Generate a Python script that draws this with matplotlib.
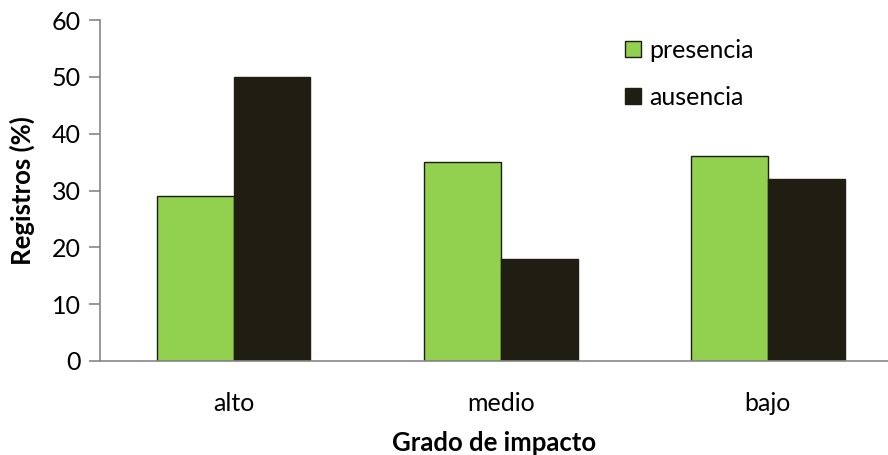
import numpy as np
import matplotlib
matplotlib.use("Agg")
from matplotlib import pyplot as plt

categorias = ["alto", "medio", "bajo"]
presencia = [29, 35, 36]
ausencia = [50, 18, 32]

plt.rcParams['font.family'] = ['Lato', 'DejaVu Sans']

fig = plt.figure(figsize=(8.88, 4.55), dpi=100)
ax = fig.add_axes([100/888, 1 - 361/455, 788/888, 341/455])

x = np.arange(len(categorias))
w = 0.288
ax.bar(x - w/2, presencia, w, color='#92D050', edgecolor='#1c1c10', linewidth=1.0, label='presencia')
ax.bar(x + w/2, ausencia, w, color='#201E12', edgecolor='#201E12', linewidth=1.0, label='ausencia')

ax.set_xlim(-0.5, 2.45)
ax.set_ylim(0, 60)
ax.set_yticks(range(0, 61, 10))
ax.set_xticks(x)
ax.set_xticklabels(categorias)

for s in ['top', 'right']:
    ax.spines[s].set_visible(False)
for s in ['left', 'bottom']:
    ax.spines[s].set_color('#868686')
    ax.spines[s].set_linewidth(1.2)
ax.tick_params(axis='y', length=8, width=1.2, color='#868686', labelsize=18, pad=6)
ax.tick_params(axis='x', length=0, labelsize=18, pad=22)

ax.set_ylabel("Registros (%)", fontsize=18.5, fontweight='bold', labelpad=12)
ax.set_xlabel("Grado de impacto", fontsize=18.5, fontweight='bold', labelpad=12)

ax.legend(loc='upper left', bbox_to_anchor=(0.638, 1.011), frameon=False, fontsize=18,
          handlelength=0.65, handleheight=0.65, handletextpad=0.3, labelspacing=0.96)

fig.savefig("out.png", dpi=100)
